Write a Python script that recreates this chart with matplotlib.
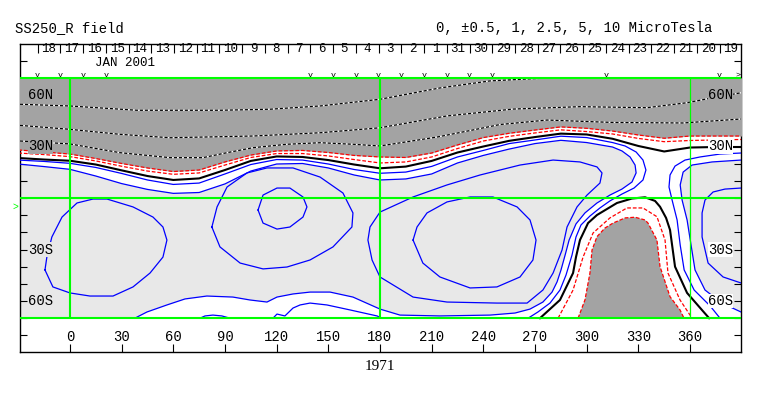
import matplotlib
matplotlib.use('Agg')
import matplotlib.pyplot as plt
import matplotlib.transforms as mtransforms

plt.rcParams['font.family'] = ['Liberation Mono', 'DejaVu Sans Mono']

# SS250_R field, Carrington rotation 1971 (lon/lat in degrees)

band_lon = [-30, -15, 0, 15, 30, 45, 60, 75, 90, 105, 120, 135, 150, 165, 180,
            195, 210, 225, 240, 255, 270, 285, 300, 315, 330, 345, 360, 375, 390]
# neutral line and +0.5 / +1 contours along the northern band
zero_lat = [23.3, 22.4, 21.7, 19.5, 16.1, 12.8, 10.5, 11.4, 16.3, 21.6, 24.2, 23.9, 22.1, 19.5, 17.3,
            18.3, 21.6, 26.5, 30.0, 33.3, 35.5, 37.5, 37.0, 34.5, 30.3, 27.1, 29.4, 29.7, 29.7]
pos05_lat = [26.2, 25.3, 24.1, 21.6, 18.5, 15.7, 13.8, 14.6, 19.2, 23.6, 25.9, 25.9, 24.5, 22.4, 20.4,
             21.0, 23.9, 28.8, 33.2, 35.9, 37.9, 39.7, 38.7, 37.3, 34.7, 32.8, 33.5, 33.8, 34.1]
pos1_lat = [28.0, 26.8, 25.6, 23.0, 20.1, 17.5, 15.4, 16.3, 21.0, 25.0, 27.4, 27.7, 26.5, 24.8, 23.9,
            23.6, 26.2, 30.9, 35.2, 37.7, 39.6, 41.4, 40.6, 39.0, 36.7, 34.8, 36.1, 36.1, 36.1]

# -0.5 / -1 contours along the band, up to the saddle
neg_lon = [-30, -15, 0, 15, 30, 45, 60, 75, 90, 105, 120, 135, 150, 165, 180,
           195, 210, 225, 240, 255, 270, 285, 300, 315]
neg05_lat = [22.1, 21.3, 20.2, 17.8, 14.3, 10.5, 7.9, 8.7, 14.0, 19.5, 22.4, 22.1, 19.8, 16.6, 14.4,
             15.1, 18.4, 23.9, 27.7, 31.7, 33.8, 36.0, 35.2, 32.3]
neg1_lat = [19.8, 18.3, 16.7, 12.8, 8.4, 5.0, 2.7, 3.2, 8.2, 15.7, 19.8, 20.1, 17.5, 13.4, 10.5,
            11.1, 14.0, 20.4, 24.8, 28.5, 31.7, 33.6, 32.3, 29.7]

# same contours after they turn south through the saddle (west of the southern positive cell)
neg05_west = [(322.3, 30.3), (328.7, 26.8), (332.7, 22.1), (334.4, 16.3), (332.7, 10.5), (327.5, 5.8),
              (320.5, 2.3), (313.5, -1.7), (307.7, -5.8), (301.9, -10.5), (296.7, -15.7), (293.8, -22.7),
              (291.5, -33.2), (288.0, -44.9), (284.5, -53.6), (278.7, -61.2), (271.7, -66.4), (266.0, -70.0)]
neg1_west = [(320.5, 27.4), (325.2, 23.9), (328.1, 19.2), (328.7, 14.6), (326.3, 9.3), (320.5, 5.2),
             (313.5, 1.7), (306.0, -2.9), (299.0, -8.7), (293.8, -15.1), (289.8, -24.5), (287.5, -33.2),
             (285.1, -41.9), (282.8, -48.9), (279.9, -54.8), (274.6, -60.6), (267.1, -64.7), (258.4, -67.0),
             (243.9, -68.2), (214.8, -68.7), (191.6, -68.2), (180.0, -64.7), (164.3, -57.7), (151.0, -54.8),
             (139.4, -54.8), (129.5, -55.9), (120.2, -57.7), (114.4, -60.6), (104.5, -59.4), (94.6, -57.7),
             (79.5, -57.1), (66.8, -58.8), (56.3, -62.3), (44.7, -66.4), (37.7, -70.0)]
# east side of the saddle
neg05_east = [(389.6, 26.2), (377.4, 25.6), (365.8, 23.9), (357.1, 22.1), (351.3, 18.6), (348.4, 13.4),
              (347.8, 6.4), (349.6, -1.2), (352.5, -12.8), (354.3, -27.4), (356.6, -41.9), (362.4, -53.6),
              (371.7, -62.9), (377.4, -70.0)]
neg1_east = [(389.6, 22.1), (372.8, 21.0), (361.2, 19.2), (356.0, 15.1), (354.3, 7.6), (355.4, -1.2),
             (358.3, -12.8), (360.6, -27.4), (362.9, -41.9), (368.7, -53.6), (378.5, -61.2), (389.6, -66.4)]
# small -0.5 pieces touching the south edge
neg05_south = [(117.9, -70.0), (120.2, -67.6), (124.8, -68.7), (129.5, -64.1), (133.6, -62.3), (139.4, -61.2),
               (149.2, -62.3), (162.6, -65.2), (178.3, -68.7), (181.2, -70.0)]
neg05_south2 = [(75.5, -70.0), (78.4, -68.7), (83.0, -68.2), (88.2, -68.7), (92.9, -70.0)]

# southern positive cell
cell_zero = [(272.9, -70.0), (284.5, -59.4), (292.1, -43.7), (293.8, -34.4), (296.1, -24.5), (300.8, -14.6),
             (306.0, -9.9), (317.6, -2.9), (326.3, -0.3), (333.9, 0.4), (339.7, -1.7), (342.6, -5.1),
             (346.1, -11.6), (348.4, -18.6), (351.3, -40.0), (358.3, -55.3), (367.6, -66.0), (371.1, -70.0)]
cell_pos05 = [(283.4, -70.0), (292.1, -53.6), (297.9, -34.4), (303.7, -20.4), (313.5, -11.6), (323.4, -5.8),
              (332.7, -5.8), (340.8, -10.9), (345.5, -24.5), (347.2, -43.7), (354.2, -59.4), (361.2, -70.0)]
cell_pos1 = [(295.0, -70.0), (299.0, -59.4), (301.9, -43.7), (303.1, -30.3), (306.0, -22.5), (310.6, -17.5),
             (315.3, -14.6), (322.3, -11.6), (328.1, -11.2), (333.9, -12.8), (335.6, -14.6), (340.8, -24.5),
             (342.6, -40.0), (348.4, -57.5), (354.2, -65.2), (356.5, -70.0)]

# stronger negative contours (-2.5, -5)
neg25_west = [(-14.5, -41.9), (-13.4, -34.4), (-10.5, -22.7), (-4.6, -11.1), (4.1, -2.9), (13.4, -0.6),
              (21.5, -0.6), (36.6, -5.2), (48.2, -11.1), (54.0, -16.9), (56.3, -24.5), (54.0, -34.4),
              (46.5, -43.7), (36.6, -51.8), (25.0, -57.1), (11.6, -57.1), (0.0, -55.3), (-9.9, -51.8)]
neg25_mid = [(82.4, -16.9), (85.4, -5.2), (91.2, 6.4), (102.8, 14.6), (114.4, 17.5), (129.5, 17.5),
             (145.2, 12.2), (158.5, 2.9), (164.3, -8.7), (163.7, -16.9), (152.7, -28.5), (139.4, -36.1),
             (126.0, -40.2), (112.1, -41.3), (98.8, -37.9), (87.1, -28.5)]
neg5_mid = [(109.2, -7.0), (112.1, 1.7), (120.2, 5.8), (127.7, 5.8), (135.3, 0.6), (137.6, -5.2),
            (135.3, -11.1), (127.7, -16.9), (120.2, -18.1), (112.1, -14.6)]
neg25_east = [(180.0, -8.2), (199.2, 0.6), (218.9, 7.6), (238.1, 13.4), (261.3, 19.2), (280.5, 22.1),
              (296.1, 21.0), (306.0, 18.1), (308.9, 14.6), (307.7, 8.7), (300.2, 1.7), (294.4, -5.2),
              (288.6, -16.9), (285.7, -30.3), (280.5, -43.7), (274.6, -53.6), (265.4, -61.2), (247.9, -61.2),
              (218.9, -60.6), (199.2, -57.7), (180.0, -46.0), (175.4, -36.1), (173.0, -24.5), (174.2, -16.9)]
neg5_east = [(199.2, -24.5), (201.5, -16.9), (207.3, -8.7), (218.9, -2.3), (232.3, 0.6), (245.6, 0.6),
             (259.6, -5.2), (267.1, -12.8), (270.6, -24.5), (268.8, -36.1), (261.3, -46.0), (247.9, -51.8),
             (232.3, -52.4), (214.8, -46.0), (204.9, -37.9)]
neg25_edge = [(389.6, 5.8), (380.3, 5.2), (373.4, 3.5), (368.7, -1.2), (367.0, -8.7), (367.0, -22.7),
              (370.5, -37.9), (379.2, -46.0), (389.6, -49.5)]

# stronger positive contours in the north (+2.5, +5, +10)
pos25_lon = [-29, 0, 29, 58, 77.2, 91.2, 106.3, 126, 145.2, 164.3, 180, 213.1, 232.3, 249.7, 277, 315.3, 355.9, 389.6]
pos25_lat = [33.2, 31.5, 26.4, 23.5, 23.5, 26.4, 29.3, 31.3, 32.2, 31.3, 30.3, 35.5, 39.3, 42.8, 45.4, 44.0, 43.7, 46.0]
pos5_lon = [-29, 0, 29, 58, 106.3, 145.2, 180, 218.9, 257.2, 296.1, 335, 358.3, 373.4, 389.6]
pos5_lat = [42.3, 40.0, 37.1, 35.1, 36.1, 38.0, 40.9, 47.8, 51.8, 53.2, 52.6, 55.5, 58.4, 61.3]
pos10_lon = [-29, 0, 38.9, 87.1, 116.1, 145.2, 180, 214.8, 243.9, 272.9, 286]
pos10_lat = [54.6, 53.6, 51.1, 51.1, 51.7, 53.6, 57.5, 64.1, 68.2, 69.7, 70.0]

# date strip: day boundaries (Carrington lon) and day numbers
day_edges = [-18.8, -5.6, 7.6, 20.8, 34.0, 47.2, 60.4, 73.6, 86.8, 100.0, 113.2, 126.4, 139.6, 152.8,
             166.0, 179.2, 192.4, 205.6, 218.8, 232.0, 245.2, 258.4, 271.6, 284.8, 298.0, 311.2, 324.4,
             337.6, 350.8, 364.0, 377.2, 390.4]
day_labels = ['18', '17', '16', '15', '14', '13', '12', '11', '10', '9', '8', '7', '6', '5', '4', '3',
              '2', '1', '31', '30', '29', '28', '27', '26', '25', '24', '23', '22', '21', '20', '19']
obs_lons = [-18.8, -5.6, 7.6, 20.8, 139.6, 152.8, 166.0, 179.2, 192.4, 205.6, 218.8, 232.0, 245.2, 311.2, 377.2]

lon_ticks = [0, 30, 60, 90, 120, 150, 180, 210, 240, 270, 300, 330, 360]
lat_labels = [(60, '60N'), (30, '30N'), (-30, '30S'), (-60, '60S')]

DARK = '#a3a3a3'
LIGHT = '#e8e8e8'
GREEN = '#00ff00'

fig = plt.figure(figsize=(7.63, 3.96), dpi=100)
ax = fig.add_axes([20 / 763, 44 / 396, 721 / 763, 308 / 396])
ax.set_xlim(-29, 389.6)
ax.set_ylim(-89.7, 89.7)

# shading: light grey below -1, white between, dark grey above +1
ax.fill_between([-30, 390], -70, 70, color=LIGHT, lw=0, zorder=1)
wx = [-30] + neg_lon + [p[0] for p in neg1_west] + [390, 390] + [p[0] for p in neg1_east[::-1]] + [390]
wy = [70] + neg1_lat + [p[1] for p in neg1_west] + [-70, -66.4] + [p[1] for p in neg1_east[::-1]] + [70]
ax.fill(wx, wy, color='white', lw=0, zorder=2)
ax.fill_between(band_lon, pos1_lat, 70, color=DARK, lw=0, zorder=3)
ax.fill([p[0] for p in cell_pos1], [p[1] for p in cell_pos1], color=DARK, lw=0, zorder=3)


def draw(pts, closed=False, **kw):
    xs = [p[0] for p in pts]
    ys = [p[1] for p in pts]
    if closed:
        xs.append(xs[0])
        ys.append(ys[0])
    ax.plot(xs, ys, **kw)


# positive contours on the grey: black/white dashes
for xs, ys in [(pos25_lon, pos25_lat), (pos5_lon, pos5_lat), (pos10_lon, pos10_lat)]:
    ax.plot(xs, ys, color='white', lw=0.9, zorder=4)
    ax.plot(xs, ys, color='black', lw=0.9, dashes=(2.5, 1.5), zorder=4)

red = dict(color='red', lw=0.9, dashes=(3, 1.5), zorder=4)
ax.plot(band_lon, pos1_lat, **red)
ax.plot(band_lon, pos05_lat, **red)
draw(cell_pos1, **red)
draw(cell_pos05, **red)

ax.plot(band_lon, zero_lat, color='black', lw=1.5, zorder=4)
draw(cell_zero, color='black', lw=1.5, zorder=4)

blue = dict(color='#0000ff', lw=0.9, zorder=4)
draw(list(zip(neg_lon, neg05_lat)) + neg05_west, **blue)
draw(list(zip(neg_lon, neg1_lat)) + neg1_west, **blue)
for pts in [neg05_east, neg1_east, neg05_south, neg05_south2, neg25_edge]:
    draw(pts, **blue)
for pts in [neg25_west, neg25_mid, neg5_mid, neg25_east, neg5_east]:
    draw(pts, closed=True, **blue)

# green reference lines
ax.hlines([70, 0, -70], -29, 389.6, color=GREEN, lw=1.5, zorder=6)
ax.vlines([0, 180], -70, 70, color=GREEN, lw=1.5, zorder=6)
ax.vlines([360], -70, 70, color=GREEN, lw=0.9, zorder=6)

# frame and ticks
for s in ax.spines.values():
    s.set_linewidth(1)
ax.set_yticks(range(-80, 81, 10))
ax.set_xticks(lon_ticks)
ax.tick_params(axis='y', direction='in', length=5, width=0.8, left=True, right=True,
               labelleft=False, labelright=False)
ax.tick_params(axis='x', direction='in', length=5.5, width=0.8, top=False, labelbottom=False)

for lon in lon_ticks:
    ax.text(lon, -81, str(lon), ha='center', va='center', fontsize=10)

trans = mtransforms.blended_transform_factory(ax.transAxes, ax.transData)
left_bg = [DARK, DARK, LIGHT, LIGHT]
right_bg = [DARK, 'white', 'white', 'white']
for (lat, lab), lb, rb in zip(lat_labels, left_bg, right_bg):
    ax.text(0.011, lat, lab, transform=trans, ha='left', va='center', fontsize=10, zorder=7,
            bbox=dict(facecolor=lb, edgecolor='none', pad=0.3))
    ax.text(0.989, lat, lab, transform=trans, ha='right', va='center', fontsize=10, zorder=7,
            bbox=dict(facecolor=rb, edgecolor='none', pad=0.3))

# date strip
ax.vlines(day_edges, 84.5, 89.7, color='black', lw=0.8)
for k, lab in enumerate(day_labels):
    ax.text((day_edges[k] + day_edges[k + 1]) / 2, 87.0, lab, ha='center', va='center', fontsize=9)
ax.text(14.5, 78.6, 'JAN 2001', ha='left', va='center', fontsize=9)
for lon in obs_lons:
    ax.text(lon, 71.4, 'v', ha='center', va='center', fontsize=6)
ax.text(388, 71.4, '>', ha='center', va='center', fontsize=6)
ax.text(-30, -5, '>', color=GREEN, ha='right', va='center', fontsize=7, clip_on=False)

fig.text(15 / 763, 1 - 32 / 396, 'SS250_R field', ha='left', va='baseline', fontsize=10)
fig.text(712 / 763, 1 - 32 / 396, '0, \u00b10.5, 1, 2.5, 5, 10 MicroTesla', ha='right', va='baseline', fontsize=10)
fig.text(380 / 763, 1 - 366 / 396, '1971', ha='center', va='center', fontsize=11, family='Liberation Serif')

fig.savefig('out.png', dpi=100)
